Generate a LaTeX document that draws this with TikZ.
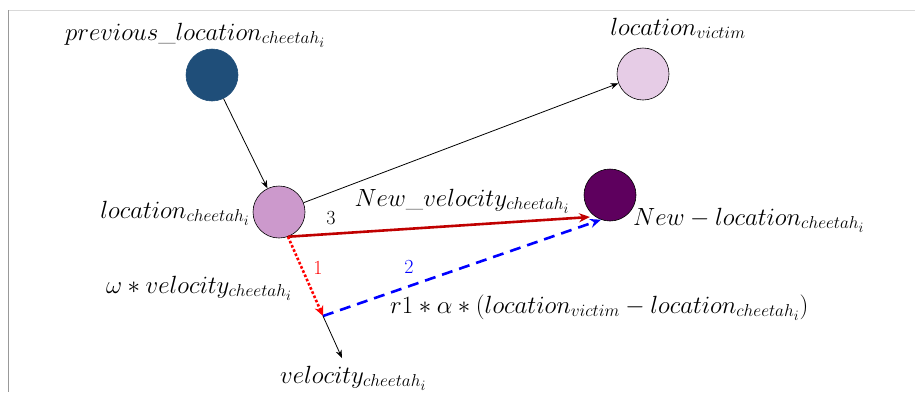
\documentclass[tikz,border=0pt]{standalone}
\usetikzlibrary{arrows.meta}
\DeclareMathSizes{25}{25}{19}{14}
\definecolor{prevc}{RGB}{31,78,121}
\definecolor{victc}{RGB}{230,204,230}
\definecolor{cheetc}{RGB}{204,153,204}
\definecolor{newc}{RGB}{94,0,94}
\definecolor{darkred}{RGB}{192,0,0}
\tikzset{
  ball/.style={circle, minimum size=52pt, inner sep=0pt, draw=black, line width=0.6pt},
  lab/.style={inner sep=0pt, font=\fontsize{25}{29}\selectfont},
  num/.style={inner sep=0pt, font=\fontsize{20}{24}\selectfont},
  thinarrow/.style={line width=0.8pt, -{Stealth[length=8pt,width=6pt]}},
}
\begin{document}
\begin{tikzpicture}[x=1pt,y=-1pt]
\useasboundingbox (0,0) rectangle (915,392);
% frame lines
\draw[color=black!15, line width=1pt] (8,10) -- (915,10);
\draw[color=black!40, line width=1pt] (8,10) -- (8,392);
% nodes
\node[ball, fill=prevc, draw=prevc] (prev) at (212,75) {};
\node[ball, fill=victc] (vict) at (643,74) {};
\node[ball, fill=cheetc] (cheet) at (279,212) {};
\node[ball, fill=newc] (new) at (610,195) {};
\coordinate (vtip) at (323,316);
\coordinate (redend) at (590,217);
\coordinate (vend) at (342,358);
% labels
\node[lab, anchor=base west] (prevlab) at (65,40) {$previous\_location_{cheetah_i}$};
\node[lab, anchor=base] (victlab) at (678,35) {$location_{victim}$};
\node[lab, anchor=base east] (cheetlab) at (250,218) {$location_{cheetah_i}$};
\node[lab, anchor=base] (newvellab) at (462,206) {$New\_velocity_{cheetah_i}$};
\node[lab, anchor=base west] (newloclab) at (633,225) {$New - location_{cheetah_i}$};
\node[lab, anchor=base] (omegalab) at (199,293) {$\omega * velocity_{cheetah_i}$};
\node[lab, anchor=base west] (r1lab) at (390,313) {$r1 * \alpha * \Bigl(location_{victim} - location_{cheetah_i}\Bigr)$};
\node[lab, anchor=base west] (vellab) at (280,383) {$velocity_{cheetah_i}$};
\node[num] (n3) at (331,218) {3};
\node[num, text=red] (n1) at (318,268) {1};
\node[num, text=blue] (n2) at (409,267) {2};
% connectors
\draw[thinarrow] (prev) -- (cheet);
\draw[thinarrow] (cheet) -- (vict);
\draw[darkred, line width=2.6pt, -{Stealth[length=11pt,width=9pt]}] (cheet.-70) -- (redend);
\draw[red, line width=2.6pt, dotted, -{Stealth[length=10pt,width=9pt]}] (cheet.-70) -- (vtip);
\draw[blue, line width=2.6pt, dash pattern=on 11pt off 7pt, -{Stealth[length=11pt,width=9pt]}] (vtip) -- (new.250);
\draw[thinarrow] (vtip) -- (vend);
\end{tikzpicture}
\end{document}
